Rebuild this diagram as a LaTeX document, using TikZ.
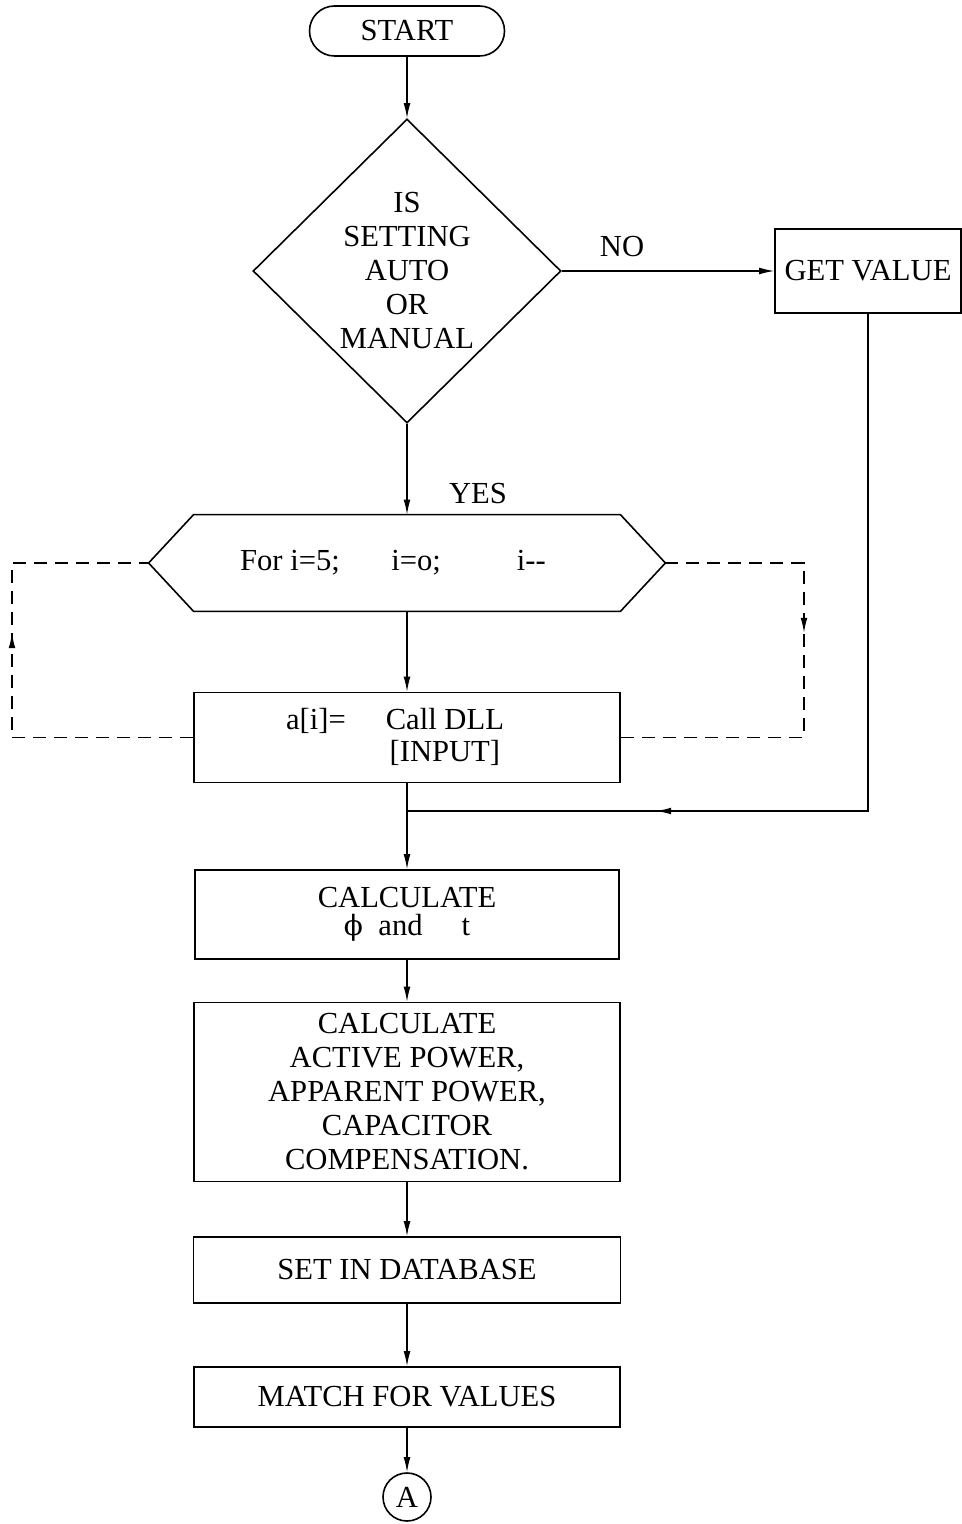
\documentclass[tikz,border=0pt]{standalone}
\usepackage{fontspec}
\setmainfont{Liberation Serif}
\newfontfamily\phifont{DejaVu Serif}
\usetikzlibrary{arrows.meta,shapes.geometric,decorations.markings}
\begin{document}
\begin{tikzpicture}[x=0.5pt,y=-0.5pt,
  font=\fontsize{15.3}{17}\selectfont,
  box/.style={draw,line width=0.8pt,inner sep=0pt,align=center},
  conn/.style={line width=0.6pt},
  arr/.style={conn,-{Latex[length=7.5pt,width=3.4pt]}},
  loopline/.style={line width=0.7pt,dash pattern=on 6.5pt off 4pt},
  midarr/.style={postaction={decorate},decoration={markings,mark=at position #1 with {\arrow{Latex[length=7.5pt,width=3.4pt]}}}},
  lbl/.style={inner sep=0pt}]
\useasboundingbox (0,0) rectangle (962,1524);

% nodes
\node[box,rounded corners=12.5pt,minimum width=97.5pt,minimum height=25pt] (start) at (407,31) {START};
\node[box,shape=diamond,minimum width=154pt,minimum height=152pt] (dec) at (407,271) {IS\\SETTING\\AUTO\\OR\\MANUAL};
\node[box,minimum width=93pt,minimum height=42pt] (getv) at (868,271) {GET VALUE};
\node[lbl] (no) at (622,247) {NO};

\node[minimum width=258pt,minimum height=48pt,inner sep=0pt] (loop) at (407,563) {};
\draw[line width=0.8pt] (loop.west) -- ([xshift=22.5pt]loop.north west) -- ([xshift=-22.5pt]loop.north east) -- (loop.east) -- ([xshift=-22.5pt]loop.south east) -- ([xshift=22.5pt]loop.south west) -- cycle;
\node[lbl] (looptxt) at (393,563) {For i=5;\hspace{25.75pt}i=o;\hspace{38pt}i-\kern0pt-};
\node[lbl] (yes) at (478,494) {YES};

\node[box,minimum width=213pt,minimum height=45pt] (callbox) at (407,737.5) {};
\node[lbl] (calltxt) at (395,739) {\begin{tabular}{@{}l@{\hspace{20pt}}c@{}}a[i]= & Call DLL\\[-1pt] & [INPUT]\end{tabular}};

\node[box,minimum width=212pt,minimum height=44.5pt] (calc1) at (407,914.5) {CALCULATE\\[-3pt]{\phifont\fontsize{14}{17}\selectfont ϕ}\hspace{7.75pt}and\hspace{19.5pt}t};
\node[box,minimum width=213pt,minimum height=89.5pt] (calc2) at (407,1092) {CALCULATE\\ACTIVE POWER,\\APPARENT POWER,\\CAPACITOR\\COMPENSATION.};
\node[box,minimum width=213.5pt,minimum height=33pt] (setdb) at (407,1270) {SET IN DATABASE};
\node[box,minimum width=213pt,minimum height=30pt] (match) at (407,1397) {MATCH FOR VALUES};
\node[box,circle,minimum size=24pt] (A) at (407,1497) {A};

% helper coordinates
\coordinate (jn) at (407,811);
\coordinate (gvc) at (868,811);
\coordinate (rt1) at (804,563);
\coordinate (rt2) at (804,737.5);
\coordinate (lt1) at (12,737.5);
\coordinate (lt2) at (12,563);

% connectors
\draw[arr] (start) -- (dec);
\draw[arr] (dec.east) -- (getv.west);
\draw[arr] (dec.south) -- (loop.north);
\draw[arr] (loop.south) -- (callbox.north);
\draw[loopline,midarr=0.42] (loop.east) -- (rt1) -- (rt2) -- (callbox.east);
\draw[loopline,midarr=0.58] (callbox.west) -- (lt1) -- (lt2) -- (loop.west);
\draw[conn] (callbox.south) -- (jn);
\draw[conn,midarr=0.74] (getv.south) -- (gvc) -- (jn);
\draw[arr] (jn) -- (calc1.north);
\draw[arr] (calc1) -- (calc2);
\draw[arr] (calc2) -- (setdb);
\draw[arr] (setdb) -- (match);
\draw[arr] (match) -- (A);
\end{tikzpicture}
\end{document}
